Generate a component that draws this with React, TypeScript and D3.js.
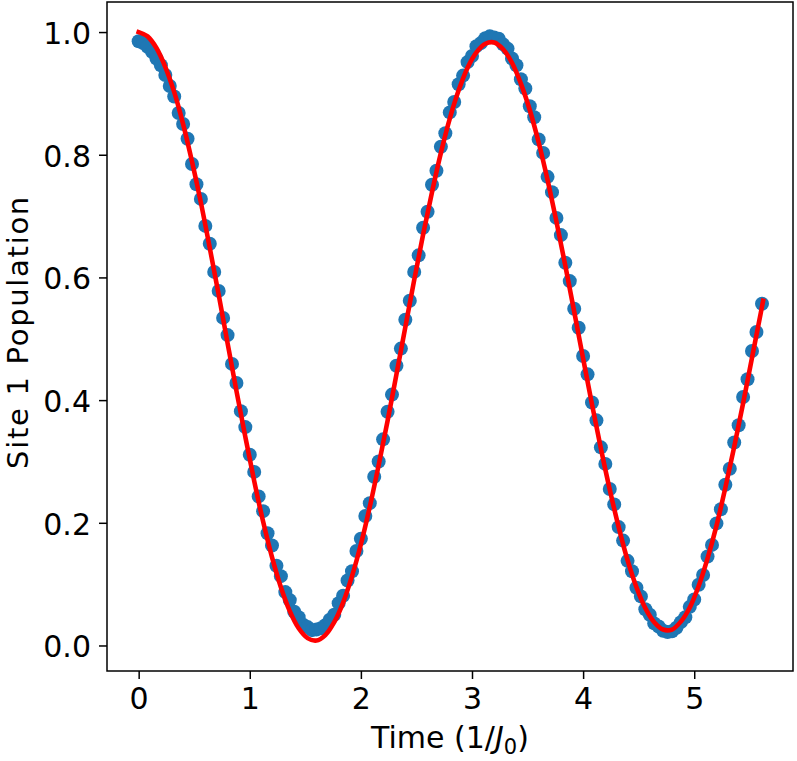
import { useRef, useEffect } from 'react'
import * as d3 from 'd3'

// measured site-1 population (blue dots)
const dotTimes = [
  0, 0.04, 0.08, 0.12, 0.16, 0.2, 0.24, 0.28, 0.32, 0.36,
  0.4, 0.44, 0.48, 0.52, 0.56, 0.6, 0.64, 0.68, 0.72, 0.76,
  0.8, 0.84, 0.88, 0.92, 0.96, 1.0, 1.04, 1.08, 1.12, 1.16,
  1.2, 1.24, 1.28, 1.32, 1.36, 1.4, 1.44, 1.48, 1.52, 1.56,
  1.6, 1.64, 1.68, 1.72, 1.76, 1.8, 1.84, 1.88, 1.92, 1.96,
  2.0, 2.04, 2.08, 2.12, 2.16, 2.2, 2.24, 2.28, 2.32, 2.36,
  2.4, 2.44, 2.48, 2.52, 2.56, 2.6, 2.64, 2.68, 2.72, 2.76,
  2.8, 2.84, 2.88, 2.92, 2.96, 3.0, 3.04, 3.08, 3.12, 3.16,
  3.2, 3.24, 3.28, 3.32, 3.36, 3.4, 3.44, 3.48, 3.52, 3.56,
  3.6, 3.64, 3.68, 3.72, 3.76, 3.8, 3.84, 3.88, 3.92, 3.96,
  4.0, 4.04, 4.08, 4.12, 4.16, 4.2, 4.24, 4.28, 4.32, 4.36,
  4.4, 4.44, 4.48, 4.52, 4.56, 4.6, 4.64, 4.68, 4.72, 4.76,
  4.8, 4.84, 4.88, 4.92, 4.96, 5.0, 5.04, 5.08, 5.12, 5.16,
  5.2, 5.24, 5.28, 5.32, 5.36, 5.4, 5.44, 5.48, 5.52, 5.56,
  5.61,
]

const dotPop = [
  0.985, 0.982, 0.976, 0.968, 0.957, 0.946, 0.93, 0.912, 0.895, 0.868,
  0.85, 0.826, 0.785, 0.752, 0.728, 0.684, 0.655, 0.609, 0.578, 0.534,
  0.506, 0.459, 0.428, 0.382, 0.356, 0.311, 0.283, 0.243, 0.219, 0.183,
  0.163, 0.13, 0.113, 0.087, 0.074, 0.055, 0.046, 0.034, 0.03, 0.025,
  0.026, 0.028, 0.033, 0.042, 0.05, 0.069, 0.081, 0.106, 0.121, 0.154,
  0.174, 0.211, 0.232, 0.275, 0.3, 0.336, 0.381, 0.409, 0.456, 0.484,
  0.531, 0.562, 0.609, 0.636, 0.681, 0.707, 0.751, 0.774, 0.813, 0.835,
  0.869, 0.886, 0.915, 0.929, 0.951, 0.961, 0.977, 0.982, 0.99, 0.993,
  0.991, 0.989, 0.98, 0.973, 0.957, 0.946, 0.923, 0.908, 0.879, 0.861,
  0.825, 0.803, 0.764, 0.739, 0.697, 0.669, 0.624, 0.594, 0.549, 0.518,
  0.472, 0.442, 0.396, 0.367, 0.323, 0.296, 0.255, 0.23, 0.193, 0.171,
  0.138, 0.121, 0.094, 0.08, 0.059, 0.05, 0.036, 0.031, 0.024, 0.022,
  0.023, 0.029, 0.038, 0.046, 0.063, 0.075, 0.099, 0.115, 0.145, 0.164,
  0.199, 0.222, 0.262, 0.288, 0.331, 0.359, 0.405, 0.434, 0.48, 0.511,
  0.557,
]

// fitted curve (red line)
const fitTimes = [
  0, 0.08, 0.16, 0.24, 0.32, 0.4, 0.48, 0.56, 0.64, 0.72,
  0.8, 0.88, 0.96, 1.04, 1.12, 1.2, 1.28, 1.36, 1.44, 1.52,
  1.6, 1.68, 1.76, 1.84, 1.92, 2.0, 2.08, 2.16, 2.24, 2.32,
  2.4, 2.48, 2.56, 2.64, 2.72, 2.8, 2.88, 2.96, 3.04, 3.12,
  3.2, 3.28, 3.36, 3.44, 3.52, 3.6, 3.68, 3.76, 3.84, 3.92,
  4.0, 4.08, 4.16, 4.24, 4.32, 4.4, 4.48, 4.56, 4.64, 4.72,
  4.8, 4.88, 4.96, 5.04, 5.12, 5.2, 5.28, 5.36, 5.44, 5.52,
  5.6, 5.62,
]

const fitPop = [
  1.0, 0.993, 0.974, 0.943, 0.902, 0.85, 0.789, 0.722, 0.648, 0.572,
  0.493, 0.415, 0.34, 0.268, 0.202, 0.144, 0.095, 0.056, 0.028, 0.012,
  0.008, 0.017, 0.038, 0.07, 0.113, 0.165, 0.226, 0.294, 0.366, 0.442,
  0.519, 0.596, 0.67, 0.739, 0.803, 0.859, 0.905, 0.942, 0.967, 0.981,
  0.983, 0.972, 0.95, 0.916, 0.873, 0.82, 0.759, 0.691, 0.619, 0.544,
  0.468, 0.393, 0.321, 0.254, 0.193, 0.139, 0.095, 0.061, 0.038, 0.026,
  0.026, 0.039, 0.062, 0.097, 0.142, 0.195, 0.257, 0.324, 0.395, 0.469,
  0.543, 0.562,
]

const xTicks = [0, 1, 2, 3, 4, 5]
const xTickLabels = ['0', '1', '2', '3', '4', '5']
const yTicks = [0, 0.2, 0.4, 0.6, 0.8, 1.0]
const yTickLabels = ['0.0', '0.2', '0.4', '0.6', '0.8', '1.0']

const WIDTH = 797
const HEIGHT = 761
const FONT = '"DejaVu Sans", sans-serif'

export default function App() {
  const svgRef = useRef<SVGSVGElement>(null)

  useEffect(() => {
    if (!svgRef.current) return
    const svg = d3.select(svgRef.current)
    svg.selectAll('*').remove()

    const left = 107
    const right = 793
    const top = 2
    const bottom = 671

    const x = d3.scaleLinear().domain([-0.285, 5.889]).range([left, right])
    const y = d3.scaleLinear().domain([-0.0416, 1.049]).range([bottom, top])

    svg.append('rect').attr('width', WIDTH).attr('height', HEIGHT).attr('fill', '#fff')

    // data points
    svg
      .append('g')
      .selectAll('circle')
      .data(dotTimes)
      .enter()
      .append('circle')
      .attr('cx', (d) => x(d))
      .attr('cy', (_d, i) => y(dotPop[i]))
      .attr('r', 7)
      .attr('fill', '#1f77b4')

    // fit line
    const line = d3
      .line<number>()
      .x((d) => x(d))
      .y((_d, i) => y(fitPop[i]))
      .curve(d3.curveCatmullRom)

    svg
      .append('path')
      .datum(fitTimes)
      .attr('d', line)
      .attr('fill', 'none')
      .attr('stroke', '#ff0000')
      .attr('stroke-width', 4.6)
      .attr('stroke-linecap', 'square')
      .attr('stroke-linejoin', 'round')

    // axes
    const xAxis = svg
      .append('g')
      .attr('transform', `translate(0,${bottom})`)
      .call(
        d3
          .axisBottom(x)
          .tickValues(xTicks)
          .tickFormat((_d, i) => xTickLabels[i])
          .tickSize(8)
          .tickPadding(9)
      )
    const yAxis = svg
      .append('g')
      .attr('transform', `translate(${left},0)`)
      .call(
        d3
          .axisLeft(y)
          .tickValues(yTicks)
          .tickFormat((_d, i) => yTickLabels[i])
          .tickSize(8)
          .tickPadding(8)
      )

    ;[xAxis, yAxis].forEach((g) => {
      g.select('.domain').remove()
      g.selectAll('.tick line').attr('stroke', '#000').attr('stroke-width', 1.5)
      g.selectAll('.tick text')
        .attr('fill', '#000')
        .attr('font-family', FONT)
        .attr('font-size', 30)
    })
    yAxis.selectAll('.tick text').attr('dy', '0.38em')

    // spines
    svg
      .append('rect')
      .attr('x', left)
      .attr('y', top)
      .attr('width', right - left)
      .attr('height', bottom - top)
      .attr('fill', 'none')
      .attr('stroke', '#000')
      .attr('stroke-width', 1.5)

    // axis labels
    const xLabel = svg
      .append('text')
      .attr('x', (left + right) / 2)
      .attr('y', 748)
      .attr('text-anchor', 'middle')
      .attr('font-family', FONT)
      .attr('font-size', 30)
      .attr('fill', '#000')
    xLabel.append('tspan').text('Time (1/')
    xLabel.append('tspan').attr('font-style', 'italic').text('J')
    xLabel.append('tspan').attr('font-size', 21).attr('dy', 6).text('0')
    xLabel.append('tspan').attr('dy', -6).text(')')

    svg
      .append('text')
      .attr('transform', 'translate(27.5,332) rotate(-90)')
      .attr('text-anchor', 'middle')
      .attr('font-family', FONT)
      .attr('font-size', 29)
      .attr('letter-spacing', 1.7)
      .attr('fill', '#000')
      .text('Site 1 Population')
  }, [])

  return (
    <svg
      ref={svgRef}
      width={WIDTH}
      height={HEIGHT}
      style={{ position: 'absolute', left: 0, top: 0 }}
    />
  )
}
